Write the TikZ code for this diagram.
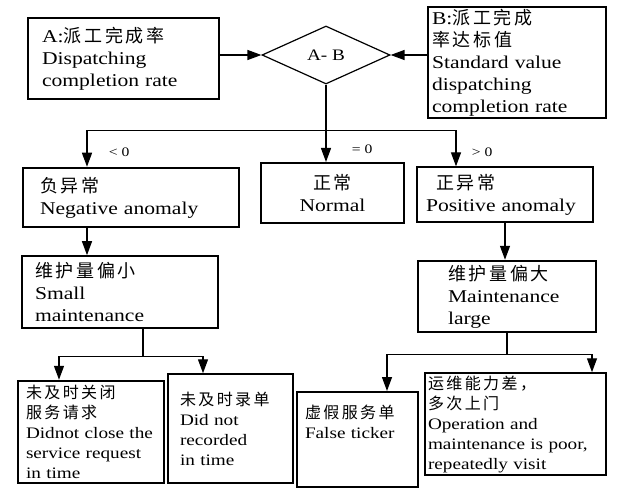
\documentclass[tikz,border=0pt]{standalone}
\usepackage{fontspec}
\setmainfont[FakeStretch=1.2]{Liberation Serif}
\newfontfamily\cjk[LetterSpace=15]{Noto Sans CJK SC}
\newcommand{\zh}[1]{{\cjk #1}}
\usetikzlibrary{shapes.geometric,arrows.meta}

\begin{document}
\begin{tikzpicture}[x=1pt,y=-1pt,
	box/.style={draw=black, rectangle, align=left, inner ysep=1pt, font=\fontsize{18}{22}\selectfont},
	lowbox/.style={box, font=\fontsize{16}{20}\selectfont},
	arr/.style={-{Triangle[length=14pt,width=10pt]}, line width=1.3pt},
	cond/.style={right, font=\fontsize{13}{15}\selectfont}]
	
	\useasboundingbox (0,0) rectangle (624,492);
	
	\node[box, line width=1.6pt, inner xsep=14pt, text width=163pt, minimum height=81pt] (A) at (123.5, 58.5) {A:\zh{派工完成率}\\Dispatching\\completion rate};
	\node[shape=diamond, draw=black, line width=1.2pt, minimum width=128pt, minimum height=58pt, inner sep=0pt, font=\fontsize{16}{18}\selectfont] (AB) at (326, 55) {A- B};
	\node[box, line width=1.3pt, inner xsep=4pt, text width=170pt, minimum height=111pt] (B) at (517, 62.5) {B:\zh{派工完成}\\\zh{率达标值}\\Standard value\\dispatching\\completion rate};
	
	\node[box, line width=2.5pt, inner xsep=17pt, text width=182pt, minimum height=59pt] (neg) at (131, 197.5) {\zh{负异常}\\Negative anomaly};
	\node[box, align=center, line width=2pt, inner xsep=10pt, text width=123pt, minimum height=60pt] (norm) at (332.5, 193) {\zh{正常}\\Normal};
	\node[box, line width=1.3pt, inner xsep=9pt, text width=158pt, minimum height=55pt] (pos) at (505, 194.5) {\hspace{10pt}\zh{正异常}\\Positive anomaly};
	
	\node[box, line width=1.6pt, inner xsep=13pt, text width=170pt, minimum height=72pt] (small) at (120, 292) {\zh{维护量偏小}\\Small\\maintenance};
	\node[box, line width=2.5pt, inner xsep=30pt, text width=118pt, minimum height=71pt] (large) at (507, 296.5) {\zh{维护量偏大}\\Maintenance\\large};
	
	\node[lowbox, line width=2.5pt, inner xsep=8pt, text width=130pt, minimum height=102pt] (close) at (91, 432) {\zh{未及时关闭}\\\zh{服务请求}\\Didnot close the\\service request\\in time};
	\node[lowbox, line width=1.5pt, inner xsep=12pt, text width=101pt, minimum height=109pt] (record) at (230.5, 428.5) {\zh{未及时录单}\\Did not\\recorded\\in time};
	\node[lowbox, line width=2pt, inner xsep=8pt, text width=105pt, minimum height=95pt] (fake) at (357.5, 439.5) {\zh{虚假服务单}\\False ticker\\\rule{0pt}{35pt}};
	\node[lowbox, line width=1.5pt, inner xsep=3pt, text width=175pt, minimum height=102pt] (visit) at (515.5, 424) {\zh{运维能力差，}\\\zh{多次上门}\\Operation and\\maintenance is poor,\\repeatedly visit};
	
	\draw[arr] (A.east |- AB.west) -- (AB.west);
	\draw[arr] (B.west |- AB.east) -- (AB.east);
	
	\draw[line width=1.3pt] (AB.south) -- ++(0,46) coordinate (fork);
	\draw[arr] (fork) -- (fork |- norm.north) node[cond, pos=0.6, xshift=22pt] {= 0};
	\draw[arr] (fork) -| ([xshift=-44pt]neg.north) node[cond, pos=0.8, xshift=18pt] {< 0};
	\draw[arr] (fork) -| ([xshift=-49pt]pos.north) node[cond, pos=0.8, xshift=12pt] {> 0};
	
	\draw[arr] ([xshift=-44pt]neg.south) -- ([xshift=-44pt]neg.south |- small.north);
	\draw[arr] (pos.south) -- (pos.south |- large.north);
	
	\draw[line width=1.3pt] ([xshift=23pt]small.south) -- ++(0,28) coordinate (lsplit);
	\draw[arr] (lsplit) -| ([xshift=-32pt]close.north);
	\draw[arr] (lsplit) -| ([xshift=-27.5pt]record.north);
	
	\draw[line width=1.3pt] (large.south) -- ++(0,21) coordinate (rsplit);
	\draw[arr] (rsplit) -| ([xshift=29.5pt]fake.north);
	\draw[arr] (rsplit) -| ([xshift=76.5pt]visit.north);
	
\end{tikzpicture}
\end{document}
